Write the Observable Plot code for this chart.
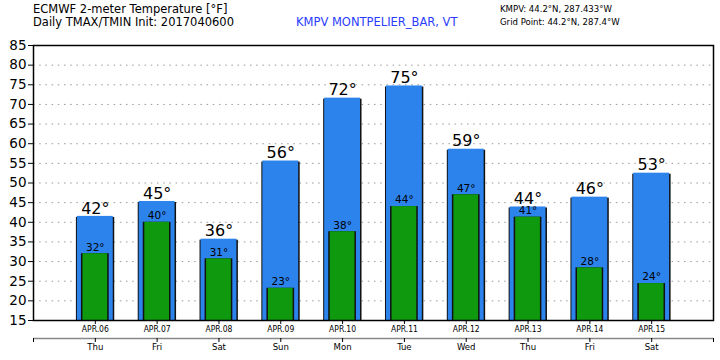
<!DOCTYPE html>
<html><head><meta charset="utf-8">
<script src="https://cdn.jsdelivr.net/npm/d3@7"></script>
<script src="https://cdn.jsdelivr.net/npm/@observablehq/plot@0.6"></script>
<style>
body{margin:0;background:#fff;}
#wrap{position:relative;width:720px;height:360px;font-family:"DejaVu Sans",sans-serif;}
#wrap svg{position:absolute;left:0;top:0;}
.h{position:absolute;white-space:nowrap;color:#000;}
</style></head>
<body><div id="wrap">
<div class="h" style="left:33px;top:2px;font-size:11.5px;">ECMWF 2-meter Temperature [°F]</div>
<div class="h" style="left:33px;top:15px;font-size:11.5px;">Daily TMAX/TMIN Init: 2017040600</div>
<div class="h" style="left:296px;top:15px;font-size:11.5px;color:#2a3cff;">KMPV MONTPELIER_BAR, VT</div>
<div class="h" style="left:500px;top:3px;font-size:9.5px;font-family:'DejaVu Sans Condensed',sans-serif;">KMPV: 44.2°N, 287.433°W</div>
<div class="h" style="left:500px;top:16px;font-size:9.5px;font-family:'DejaVu Sans Condensed',sans-serif;">Grid Point: 44.2°N, 287.4°W</div>
</div>
<script>
const dates = ["APR.06","APR.07","APR.08","APR.09","APR.10","APR.11","APR.12","APR.13","APR.14","APR.15"];
const weekdays = ["Thu","Fri","Sat","Sun","Mon","Tue","Wed","Thu","Fri","Sat"];
const tmax = [41.5, 45.3, 35.7, 55.6, 71.6, 74.7, 58.6, 43.9, 46.4, 52.5];
const tmin = [32.0, 40.0, 30.7, 23.2, 37.6, 44.0, 47.0, 41.3, 28.4, 24.4];
const tmaxLabel = [42, 45, 36, 56, 72, 75, 59, 44, 46, 53];
const tminLabel = [32, 40, 31, 23, 38, 44, 47, 41, 28, 24];
const yTicks = [15,20,25,30,35,40,45,50,55,60,65,70,75,80,85];

const data = dates.map((d, i) => ({i: i + 1, date: d, wd: weekdays[i], tmax: tmax[i], tmin: tmin[i], lmax: tmaxLabel[i], lmin: tminLabel[i]}));
const BW = 0.29, GW = 0.2;
const blue = "#2c83ec", green = "#0f990f";

const chart = Plot.plot({
  width: 720, height: 360,
  marginLeft: 33, marginRight: 7, marginTop: 45, marginBottom: 40,
  style: {fontFamily: "DejaVu Sans, sans-serif", background: "transparent", overflow: "visible"},
  x: {type: "linear", domain: [0, 11], axis: null, label: null},
  y: {domain: [15, 85], axis: null, label: null},
  marks: [
    Plot.gridY(yTicks.slice(1, -1), {stroke: "#999", strokeOpacity: 1, strokeDasharray: "1.5,4.7", strokeWidth: 1}),
    Plot.rectY(data, {x1: d => d.i - BW, x2: d => d.i + BW, y1: 15, y2: "tmax", fill: "#111", insetLeft: -1, insetRight: -1.5, insetTop: 1}),
    Plot.rectY(data, {x1: d => d.i - BW, x2: d => d.i + BW, y1: 15, y2: "tmax", fill: blue}),
    Plot.rectY(data, {x1: d => d.i - BW, x2: d => d.i + BW, y1: "tmax", y2: "tmax", stroke: "#7fb6f5", strokeWidth: 1, dy: 0.5}),
    Plot.rectY(data, {x1: d => d.i - GW, x2: d => d.i + GW, y1: 15, y2: "tmin", fill: "#111", insetLeft: -1.5, insetRight: -1.5}),
    Plot.rectY(data, {x1: d => d.i - GW, x2: d => d.i + GW, y1: 15, y2: "tmin", fill: green}),
    Plot.text(data, {x: "i", y: "tmax", text: d => d.lmax + "°", fontSize: 16, dy: -8, fill: "#000"}),
    Plot.text(data, {x: "i", y: "tmin", text: d => d.lmin + "°", fontSize: 10.5, dy: -6.5, fill: "#000"}),
    Plot.frame({stroke: "#000", strokeWidth: 1.5}),
    Plot.axisY(yTicks, {anchor: "left", tickSize: 5, tickPadding: 2, fontSize: 13.5, tickFormat: d => String(d), stroke: "#000", label: null}),
    Plot.axisX(data.map(d => d.i), {anchor: "bottom", tickSize: 4, tickPadding: 1, fontSize: 8.5, label: null, tickFormat: i => dates[i - 1], fontFamily: "DejaVu Sans Condensed, sans-serif"}),
    Plot.ruleY([15], {stroke: "#888", strokeWidth: 1.5, dy: 18, clip: false}),
    Plot.axisX([0, ...data.map(d => d.i), 11], {anchor: "bottom", dy: 18, tickSize: 4, tickPadding: 1, fontSize: 9.5, label: null, tickFormat: i => (i >= 1 && i <= 10 ? weekdays[i - 1] : ""), fontFamily: "DejaVu Sans Condensed, sans-serif"})
  ]
});
document.getElementById("wrap").prepend(chart);
</script>
</body></html>
